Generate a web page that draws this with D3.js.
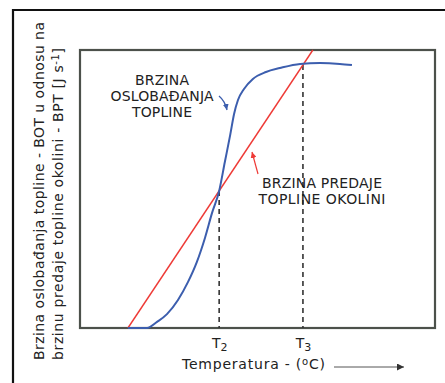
<!DOCTYPE html>
<html>
<head>
<meta charset="utf-8">
<script src="https://cdn.jsdelivr.net/npm/d3@7"></script>
<style>
  html, body { margin: 0; padding: 0; background: #fff; }
  svg { display: block; font-family: "DejaVu Sans", Verdana, sans-serif; }
</style>
</head>
<body>
<svg id="chart" width="445" height="383"></svg>
<script>
// Heat release rate (BOT) vs. temperature, in relative units
const releaseTemp = [13.5, 18.9, 21.7, 24.5, 27.6, 30.4, 32.9, 35.2, 37.2, 39.2, 40.8, 42.3, 43.4, 44.5, 46.2, 48.7, 52.4, 56.3, 62.0, 67.6, 73.2, 76.6];
const releaseRate = [0, 0, 2.2, 5.0, 10.1, 16.5, 23.7, 32.4, 41.4, 49.3, 59.7, 69.4, 77.0, 82.0, 86.0, 89.6, 92.1, 93.5, 95.0, 95.3, 95.0, 94.6];

// Heat loss rate to the surroundings (BPT): a straight line
const lossTemp = [13.5, 65.6];
const lossRate = [0, 100];

// Critical temperatures marked on the axis
const tickTemps = [39.2, 62.8];
const tickLabels = [["T", "2"], ["T", "3"]];
const tickRates = [49.3, 94.6];

const svg = d3.select("#chart");
const margin = { left: 80, top: 50, right: 10, bottom: 55 };
const W = 445, H = 383;
const plotW = 435 - margin.left, plotH = 328 - margin.top;

const x = d3.scaleLinear().domain([0, 100]).range([margin.left, margin.left + plotW]);
const y = d3.scaleLinear().domain([0, 100]).range([margin.top + plotH, margin.top]);

const defs = svg.append("defs");
function arrowHead(id, color, size) {
  defs.append("marker")
    .attr("id", id).attr("viewBox", "0 0 10 10")
    .attr("refX", 10).attr("refY", 5)
    .attr("markerWidth", size).attr("markerHeight", size)
    .attr("markerUnits", "userSpaceOnUse")
    .attr("orient", "auto")
    .append("path").attr("d", "M0,0 L10,5 L0,10 Z").attr("fill", color);
}
arrowHead("ah", "#333", 7);
arrowHead("ab", "#3c5eae", 6);
arrowHead("ar", "#ee3a36", 6);

// Outer frame (continues past the window on the right and bottom)
svg.append("path")
  .attr("d", `M13,${H + 5} L13,10 L${W + 5},10`)
  .attr("fill", "none").attr("stroke", "#111").attr("stroke-width", 2.2);

// Plot box
svg.append("rect")
  .attr("x", x(0)).attr("y", y(100))
  .attr("width", x(100) - x(0)).attr("height", y(0) - y(100))
  .attr("fill", "none").attr("stroke", "#4c514b").attr("stroke-width", 2.2);

// Dashed markers from each intersection down to the axis
svg.append("g").selectAll("line")
  .data(tickTemps)
  .join("line")
  .attr("x1", d => x(d)).attr("x2", d => x(d))
  .attr("y1", (d, i) => y(tickRates[i])).attr("y2", y(0))
  .attr("stroke", "#333").attr("stroke-width", 1.6)
  .attr("stroke-dasharray", "5,4");

// Heat loss line
svg.append("line")
  .attr("x1", x(lossTemp[0])).attr("y1", y(lossRate[0]))
  .attr("x2", x(lossTemp[1])).attr("y2", y(lossRate[1]))
  .attr("stroke", "#ee3a36").attr("stroke-width", 1.4);

// Heat release curve
const releasePts = releaseTemp.map((t, i) => [t, releaseRate[i]]);
svg.append("path")
  .datum(releasePts)
  .attr("d", d3.line().x(d => x(d[0])).y(d => y(d[1])).curve(d3.curveMonotoneX))
  .attr("fill", "none").attr("stroke", "#3c5eae").attr("stroke-width", 2);

// x axis with T2 / T3 labels
const xAxis = svg.append("g")
  .attr("transform", `translate(0,${y(0)})`)
  .call(d3.axisBottom(x).tickValues(tickTemps).tickSize(0).tickFormat(""));
xAxis.select(".domain").remove();
xAxis.selectAll(".tick text").remove();
xAxis.selectAll(".tick").each(function (d, i) {
  const t = d3.select(this).append("text")
    .attr("y", 20).attr("text-anchor", "middle")
    .attr("fill", "#222").attr("font-size", 14)
    .attr("font-family", "DejaVu Sans, sans-serif");
  t.append("tspan").text(tickLabels[i][0]);
  t.append("tspan").attr("dy", 3).attr("font-size", 11).text(tickLabels[i][1]);
});

// x axis title with arrow
const xt = svg.append("text")
  .attr("x", 182).attr("y", 369)
  .attr("fill", "#222").attr("font-size", 14)
  .attr("textLength", 143).attr("lengthAdjust", "spacing");
xt.append("tspan").text("Temperatura - (");
xt.append("tspan").attr("dy", -4).attr("font-size", 10).text("o");
xt.append("tspan").attr("dy", 4).text("C)");

svg.append("line")
  .attr("x1", 334).attr("y1", 367).attr("x2", 404).attr("y2", 367)
  .attr("stroke", "#555").attr("stroke-width", 1)
  .attr("marker-end", "url(#ah)");

// y axis title, two rotated lines
const yLines = [
  { x: 44, len: 338, parts: [["Brzina oslobađanja topline - BOT u odnosu na"]] },
  { x: 63, len: 312, parts: [["brzinu predaje topline okolini - BPT [J s"], ["-1", -4, 10], ["]", 4]] }
];
yLines.forEach(l => {
  const t = svg.append("text")
    .attr("transform", `translate(${l.x},360) rotate(-90)`)
    .attr("fill", "#222").attr("font-size", 14)
    .attr("textLength", l.len).attr("lengthAdjust", "spacing");
  l.parts.forEach(p => {
    const s = t.append("tspan").text(p[0]);
    if (p[1]) s.attr("dy", p[1]);
    if (p[2]) s.attr("font-size", p[2]);
  });
});

// Annotations
const ann1 = ["BRZINA", "OSLOBAĐANJA", "TOPLINE"];
const ann1Len = [54, 103, 60];
svg.append("g").selectAll("text")
  .data(ann1).join("text")
  .attr("x", (d, i) => 162 - ann1Len[i] / 2).attr("y", (d, i) => 85 + i * 16)
  .attr("fill", "#222").attr("font-size", 14)
  .attr("textLength", (d, i) => ann1Len[i]).attr("lengthAdjust", "spacing")
  .text(d => d);

const ann2 = ["BRZINA PREDAJE", "TOPLINE OKOLINI"];
const ann2Len = [120, 127];
svg.append("g").selectAll("text")
  .data(ann2).join("text")
  .attr("x", (d, i) => 322 - ann2Len[i] / 2).attr("y", (d, i) => 188 + i * 16)
  .attr("fill", "#222").attr("font-size", 14)
  .attr("textLength", (d, i) => ann2Len[i]).attr("lengthAdjust", "spacing")
  .text(d => d);

// Pointer arrows
svg.append("path")
  .attr("d", "M219,96 Q225,101 227,110")
  .attr("fill", "none").attr("stroke", "#3c5eae").attr("stroke-width", 1.3)
  .attr("marker-end", "url(#ab)");
svg.append("line")
  .attr("x1", 258).attr("y1", 174).attr("x2", 252).attr("y2", 152)
  .attr("stroke", "#ee3a36").attr("stroke-width", 1.2)
  .attr("marker-end", "url(#ar)");
</script>
</body>
</html>
